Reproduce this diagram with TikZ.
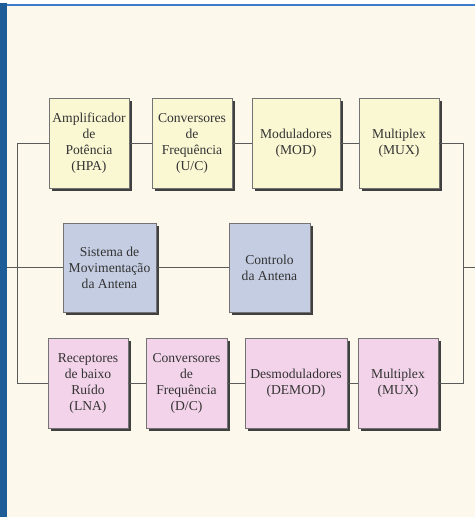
\documentclass[tikz,border=0pt]{standalone}
\usepackage{fontspec}
\setmainfont{Liberation Serif}
\usetikzlibrary{positioning, shadows}

\definecolor{paper}{HTML}{FCF9EC}
\definecolor{yelbox}{HTML}{FAF7D3}
\definecolor{bluebox}{HTML}{C4CDE2}
\definecolor{pinkbox}{HTML}{F3D3EA}
\definecolor{strip}{HTML}{1D5C96}
\definecolor{rule}{HTML}{3C7CCB}
\definecolor{wire}{HTML}{5A5A5A}

\begin{document}
\begin{tikzpicture}[
    x=0.75pt, y=-0.75pt,
    blkbox/.style={draw=black!55, line width=0.4pt, align=center,
                   inner sep=1pt, minimum height=67.5pt,
                   font=\fontsize{10.2}{12}\selectfont, text=black!80,
                   drop shadow={shadow xshift=2.2pt, shadow yshift=-2.2pt,
                                fill=black!75, opacity=1}},
    wirel/.style={draw=wire, line width=0.6pt}
  ]
  \useasboundingbox (0,0) rectangle (475,517);
  % page
  \fill[paper] (7,4) rectangle (475,517);
  \fill[strip] (0,3) rectangle (7,517);
  \fill[rule] (7,4) rectangle (475,6.5);

  % transmit chain
  \node[blkbox, fill=yelbox, minimum width=60pt] (hpa) at (89,143)
    {Amplificador\\de\\Potência\\(HPA)};
  \node[blkbox, fill=yelbox, minimum width=60pt] (uc) at (192,143)
    {Conversores\\de\\Frequência\\(U/C)};
  \node[blkbox, fill=yelbox, minimum width=66pt] (mod) at (296,143)
    {Moduladores\\(MOD)};
  \node[blkbox, fill=yelbox, minimum width=60pt] (muxt) at (399,143)
    {Multiplex\\(MUX)};

  % antenna
  \node[blkbox, fill=bluebox, minimum width=69.75pt, minimum height=66.75pt]
    (sist) at (109.5,267.5) {Sistema de\\Movimentação\\da Antena};
  \node[blkbox, fill=bluebox, minimum width=60.75pt, minimum height=66.75pt]
    (ctrl) at (269.5,267.5) {Controlo\\da Antena};

  % receive chain
  \node[blkbox, fill=pinkbox, minimum width=60pt] (lna) at (88,383)
    {Receptores\\de baixo\\Ruído\\(LNA)};
  \node[blkbox, fill=pinkbox, minimum width=60.75pt] (dc) at (186.5,383)
    {Conversores\\de\\Frequência\\(D/C)};
  \node[blkbox, fill=pinkbox, minimum width=76.5pt] (demod) at (296,383)
    {Desmoduladores\\(DEMOD)};
  \node[blkbox, fill=pinkbox, minimum width=60pt] (muxb) at (398,383)
    {Multiplex\\(MUX)};

  \coordinate (lin) at (7,267.5);
  \coordinate (rbus) at (463,267.5);
  \coordinate (rout) at (475,267.5);

  \draw[wirel] (hpa) -- (uc) (uc) -- (mod) (mod) -- (muxt);
  \draw[wirel] (lna) -- (dc) (dc) -- (demod) (demod) -- (muxb);
  \draw[wirel] (sist) -- (ctrl);
  \draw[wirel] (lin) -- (sist.west);
  \draw[wirel] (hpa.west) -- ++(-31,0) |- (lna.west);
  \draw[wirel] (muxt.east) -- ++(24,0) |- (muxb.east);
  \draw[wirel] (rbus) -- (rout);
\end{tikzpicture}
\end{document}
